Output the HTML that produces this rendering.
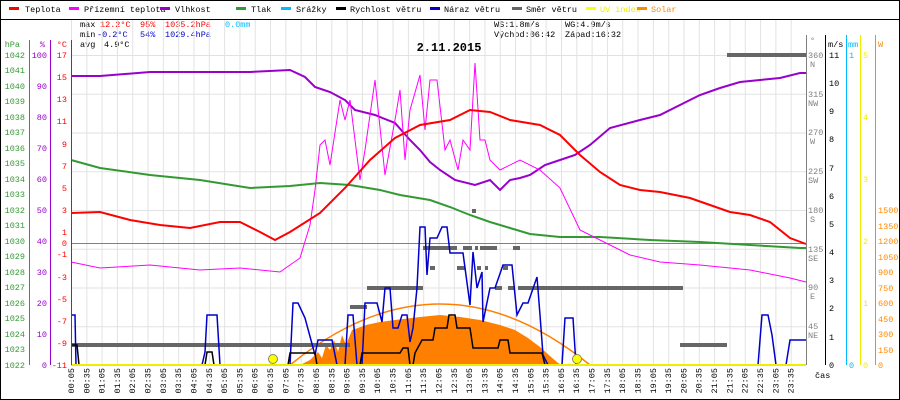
<!DOCTYPE html>
<html><head><meta charset="utf-8"><style>
body{margin:0;background:#fff}
svg{display:block;font-family:"Liberation Mono",monospace;font-size:8.5px}
</style></head><body>
<svg width="900" height="400" viewBox="0 0 900 400" xmlns="http://www.w3.org/2000/svg">
<defs>
<pattern id="vg" x="71" y="0" width="15.3125" height="400" patternUnits="userSpaceOnUse"><line x1="0.5" y1="0" x2="0.5" y2="400" stroke="#e2e2e2" stroke-width="1"/></pattern>
<pattern id="hg" x="0" y="55" width="900" height="38.75" patternUnits="userSpaceOnUse"><line x1="0" y1="0.5" x2="900" y2="0.5" stroke="#e2e2e2" stroke-width="1"/></pattern>
</defs>
<rect x="0.5" y="0.5" width="899" height="399" fill="#fff" stroke="#000"/>
<line x1="0" y1="19.5" x2="900" y2="19.5" stroke="#000"/>
<!-- legend -->
<g font-size="8.5">
<rect x="9" y="7" width="10" height="3" fill="#f00"/><text x="25" y="12">Teplota</text>
<rect x="69" y="7" width="10" height="3" fill="#f0f"/><text x="84" y="12">Přízemní teplota</text>
<rect x="160" y="7" width="10" height="3" fill="#90c"/><text x="175" y="12">Vlhkost</text>
<rect x="236" y="7" width="10" height="3" fill="#393"/><text x="251" y="12">Tlak</text>
<rect x="281" y="7" width="10" height="3" fill="#0bf"/><text x="296" y="12">Srážky</text>
<rect x="336" y="7" width="10" height="3" fill="#000"/><text x="350" y="12">Rychlost větru</text>
<rect x="430" y="7" width="10" height="3" fill="#00c"/><text x="444" y="12">Náraz větru</text>
<rect x="512" y="7" width="10" height="3" fill="#666"/><text x="526" y="12">Směr větru</text>
<rect x="586" y="7" width="10" height="3" fill="#ff0"/><text x="600" y="12" fill="#ee0">UV index</text>
<rect x="637" y="7" width="10" height="3" fill="#f80"/><text x="651" y="12" fill="#f80">Solar</text>
</g>
<!-- stats -->
<text x="80" y="27">max</text><text x="100" y="27" fill="#f00">12.2°C</text><text x="140" y="27" fill="#f00">95%</text><text x="165" y="27" fill="#f00">1035.2hPa</text><text x="225" y="27" fill="#0bf">0.0mm</text>
<text x="80" y="37">min</text><text x="97" y="37" fill="#00c">-0.2°C</text><text x="140" y="37" fill="#00c">54%</text><text x="165" y="37" fill="#00c">1029.4hPa</text>
<text x="80" y="47">avg</text><text x="104" y="47">4.9°C</text>
<text x="494" y="27">WS:1.8m/s</text><text x="565" y="27">WG:4.9m/s</text>
<text x="494" y="37">Východ:06:42</text><text x="565" y="37">Západ:16:32</text>
<!-- grid -->
<rect x="71" y="20" width="735" height="345" fill="url(#vg)"/>
<rect x="71" y="55" width="735" height="310" fill="url(#hg)"/>
<text x="449" y="51" text-anchor="middle" font-weight="bold" font-size="12">2.11.2015</text>
<line x1="71" y1="243.5" x2="806" y2="243.5" stroke="#808080"/>
<!-- solar -->
<polygon fill="#ff8000" points="300,365 310,360 318,352 322,358 326,345 330,350 334,340 338,352 342,335 346,345 352,330 358,328 366,325 380,322 395,320 420,317 440,315 460,317 480,320 500,325 515,330 528,338 540,347 550,356 558,363 562,365"/>
<path d="M290,365 Q440,243 590,365" fill="none" stroke="#ff8000" stroke-width="1.5"/>
<!-- wind direction -->
<g stroke="#666" stroke-width="4">
<line x1="71" y1="345" x2="350" y2="345"/><line x1="350" y1="307" x2="367" y2="307"/><line x1="367" y1="288" x2="423" y2="288"/>
<line x1="423" y1="248" x2="457" y2="248"/><line x1="463" y1="248" x2="472" y2="248"/><line x1="475" y1="248" x2="478" y2="248"/><line x1="480" y1="248" x2="497" y2="248"/><line x1="513" y1="248" x2="520" y2="248"/>
<line x1="430" y1="268" x2="435" y2="268"/><line x1="457" y1="268" x2="465" y2="268"/><line x1="477" y1="268" x2="481" y2="268"/><line x1="485" y1="268" x2="488" y2="268"/><line x1="503" y1="268" x2="508" y2="268"/>
<line x1="495" y1="288" x2="502" y2="288"/><line x1="508" y1="288" x2="515" y2="288"/><line x1="518" y1="288" x2="683" y2="288"/>
<line x1="472" y1="211" x2="476" y2="211"/><line x1="680" y1="345" x2="727" y2="345"/><line x1="727" y1="55" x2="806" y2="55"/>
</g>
<!-- pressure -->
<polyline fill="none" stroke="#393" stroke-width="2" points="71,160 100,168 150,175 200,180 250,188 290,186 320,183 350,185 380,190 400,195 430,200 450,207 470,215 490,222 510,228 530,234 560,237 600,237 650,240 700,242 750,245 800,248 806,248"/>
<!-- humidity -->
<polyline fill="none" stroke="#90c" stroke-width="2" points="71,76 100,76 150,72 200,72 250,72 290,70 305,77 315,87 330,92 345,100 355,110 375,115 395,123 410,140 420,150 430,162 440,170 455,180 475,185 490,180 500,190 510,180 520,178 530,175 545,165 560,160 575,155 590,145 610,128 640,120 660,115 680,105 700,95 720,88 740,82 760,80 780,78 800,73 806,73"/>
<!-- apparent temp -->
<polyline fill="none" stroke="#f0f" stroke-width="1" points="71,262 100,268 150,265 200,270 240,268 280,272 300,258 310,225 315,190 320,145 325,140 330,165 340,100 345,120 350,100 355,140 360,180 365,150 375,80 385,175 395,120 400,90 405,160 410,110 420,75 425,130 430,80 437,80 445,150 450,140 458,170 463,140 470,150 475,63 480,140 485,140 490,160 500,170 520,160 540,170 560,188 580,230 600,240 630,255 660,262 700,265 750,270 790,278 806,282"/>
<!-- temperature -->
<polyline fill="none" stroke="#f00" stroke-width="2" points="71,213 100,212 130,220 160,225 190,228 220,222 240,222 260,232 275,240 290,232 320,213 345,188 370,160 395,138 420,125 450,120 470,110 490,112 510,120 540,125 560,135 580,155 600,172 620,185 640,190 660,192 690,198 710,205 730,212 750,215 770,222 790,238 806,244"/>
<!-- gust -->
<polyline fill="none" stroke="#00c" stroke-width="1.5" points="71,315 75,315 76,365 202,365 205,352 207,315 217,315 220,365 290,365 293,303 298,303 305,318 315,355 318,340 332,340 337,365 345,365 348,315 353,315 357,365 362,365 365,303 377,303 382,322 385,288 390,288 393,328 398,328 402,315 407,315 410,342 413,328 417,288 420,227 425,227 427,275 430,238 437,238 442,227 447,227 450,253 463,253 470,305 473,252 477,288 482,272 483,322 490,288 495,288 503,265 512,265 517,315 523,303 528,303 537,277 540,315 543,355 548,365 562,365 565,318 573,318 576,365 758,365 762,315 768,315 772,335 776,365 786,365 790,340 806,340"/>
<!-- wind speed -->
<polyline fill="none" stroke="#000" stroke-width="1.5" points="71,345 77,345 79,365 205,365 207,352 212,352 214,365 288,365 290,353 315,353 317,365 360,365 362,353 400,353 403,348 408,348 410,365 413,365 415,353 422,340 433,340 435,328 447,328 449,315 455,315 457,328 470,328 473,348 498,348 500,340 508,340 510,353 542,353 545,365 806,365"/>
<line x1="71" y1="365" x2="806" y2="365" stroke="#ee0" stroke-width="2"/>
<circle cx="273" cy="359" r="4.5" fill="#ff0" stroke="#886" stroke-width="1"/>
<circle cx="577" cy="359" r="4.5" fill="#ff0" stroke="#886" stroke-width="1"/>
<!-- left axes -->
<g fill="#393" text-anchor="end">
<text x="20" y="47">hPa</text>
<text x="25" y="58">1042</text><text x="25" y="73">1041</text><text x="25" y="89">1040</text><text x="25" y="104">1039</text><text x="25" y="120">1038</text><text x="25" y="135">1037</text><text x="25" y="151">1036</text><text x="25" y="166">1035</text><text x="25" y="182">1034</text><text x="25" y="197">1033</text><text x="25" y="213">1032</text><text x="25" y="228">1031</text><text x="25" y="244">1030</text><text x="25" y="259">1029</text><text x="25" y="275">1028</text><text x="25" y="290">1027</text><text x="25" y="306">1026</text><text x="25" y="321">1025</text><text x="25" y="337">1024</text><text x="25" y="352">1023</text><text x="25" y="368">1022</text>
</g>
<line x1="29.5" y1="40" x2="29.5" y2="365" stroke="#393"/>
<g fill="#90c" text-anchor="end">
<text x="45" y="47">%</text>
<text x="47" y="58">100</text><text x="47" y="89">90</text><text x="47" y="120">80</text><text x="47" y="151">70</text><text x="47" y="182">60</text><text x="47" y="213">50</text><text x="47" y="244">40</text><text x="47" y="275">30</text><text x="47" y="306">20</text><text x="47" y="337">10</text><text x="47" y="368">0</text>
</g>
<line x1="50.5" y1="40" x2="50.5" y2="365" stroke="#90c"/>
<g fill="#f00" text-anchor="end">
<text x="67" y="47">°C</text>
<text x="67" y="58">17</text><text x="67" y="80">15</text><text x="67" y="102">13</text><text x="67" y="124">11</text><text x="67" y="147">9</text><text x="67" y="169">7</text><text x="67" y="191">5</text><text x="67" y="213">3</text><text x="67" y="235">1</text><text x="67" y="246">0</text><text x="67" y="257">-1</text><text x="67" y="280">-3</text><text x="67" y="302">-5</text><text x="67" y="324">-7</text><text x="67" y="346">-9</text><text x="67" y="368">-11</text>
</g>
<line x1="71.5" y1="40" x2="71.5" y2="365" stroke="#f00"/>
<!-- right axes -->
<line x1="806.5" y1="35" x2="806.5" y2="365" stroke="#808080"/>
<g fill="#808080">
<text x="810" y="43">°</text>
<text x="808" y="58">360</text><text x="810" y="67">N</text>
<text x="808" y="97">315</text><text x="808" y="106">NW</text>
<text x="808" y="135">270</text><text x="810" y="144">W</text>
<text x="808" y="174">225</text><text x="808" y="183">SW</text>
<text x="808" y="213">180</text><text x="810" y="222">S</text>
<text x="808" y="252">135</text><text x="808" y="261">SE</text>
<text x="808" y="290">90</text><text x="810" y="299">E</text>
<text x="808" y="329">45</text><text x="808" y="338">NE</text>
</g>
<line x1="825.5" y1="35" x2="825.5" y2="365" stroke="#000"/>
<g fill="#000">
<text x="828" y="47">m/s</text>
<text x="829" y="58">11</text><text x="829" y="86">10</text><text x="829" y="114">9</text><text x="829" y="142">8</text><text x="829" y="171">7</text><text x="829" y="199">6</text><text x="829" y="227">5</text><text x="829" y="255">4</text><text x="829" y="283">3</text><text x="829" y="311">2</text><text x="829" y="340">1</text><text x="829" y="368">0</text>
<text x="815" y="378">čas</text>
</g>
<line x1="846.5" y1="35" x2="846.5" y2="365" stroke="#0bf"/>
<g fill="#0bf"><text x="848" y="47">mm</text><text x="849" y="58">1</text><text x="849" y="368">0</text></g>
<line x1="860.5" y1="35" x2="860.5" y2="365" stroke="#ee0"/>
<g fill="#ee0"><text x="863" y="58">5</text><text x="863" y="120">4</text><text x="863" y="182">3</text><text x="863" y="244">2</text><text x="863" y="306">1</text><text x="863" y="368">0</text></g>
<line x1="875.5" y1="35" x2="875.5" y2="365" stroke="#f80"/>
<g fill="#f80"><text x="878" y="47">W</text>
<text x="878" y="213">1500</text><text x="878" y="229">1350</text><text x="878" y="244">1200</text><text x="878" y="260">1050</text><text x="878" y="275">900</text><text x="878" y="291">750</text><text x="878" y="306">600</text><text x="878" y="322">450</text><text x="878" y="337">300</text><text x="878" y="353">150</text><text x="878" y="368">0</text></g>
<!-- time labels -->
<g text-anchor="end" font-size="8.5">
<text transform="translate(74,368) rotate(-90)">00:05</text>
<text transform="translate(89.3,368) rotate(-90)">00:35</text>
<text transform="translate(104.6,368) rotate(-90)">01:05</text>
<text transform="translate(119.9,368) rotate(-90)">01:35</text>
<text transform="translate(135.2,368) rotate(-90)">02:05</text>
<text transform="translate(150.6,368) rotate(-90)">02:35</text>
<text transform="translate(165.9,368) rotate(-90)">03:05</text>
<text transform="translate(181.2,368) rotate(-90)">03:35</text>
<text transform="translate(196.5,368) rotate(-90)">04:05</text>
<text transform="translate(211.8,368) rotate(-90)">04:35</text>
<text transform="translate(227.1,368) rotate(-90)">05:05</text>
<text transform="translate(242.4,368) rotate(-90)">05:35</text>
<text transform="translate(257.7,368) rotate(-90)">06:05</text>
<text transform="translate(273,368) rotate(-90)">06:35</text>
<text transform="translate(288.3,368) rotate(-90)">07:05</text>
<text transform="translate(303.7,368) rotate(-90)">07:35</text>
<text transform="translate(319,368) rotate(-90)">08:05</text>
<text transform="translate(334.3,368) rotate(-90)">08:35</text>
<text transform="translate(349.6,368) rotate(-90)">09:05</text>
<text transform="translate(364.9,368) rotate(-90)">09:35</text>
<text transform="translate(380.2,368) rotate(-90)">10:05</text>
<text transform="translate(395.5,368) rotate(-90)">10:35</text>
<text transform="translate(410.8,368) rotate(-90)">11:05</text>
<text transform="translate(426.1,368) rotate(-90)">11:35</text>
<text transform="translate(441.4,368) rotate(-90)">12:05</text>
<text transform="translate(456.8,368) rotate(-90)">12:35</text>
<text transform="translate(472.1,368) rotate(-90)">13:05</text>
<text transform="translate(487.4,368) rotate(-90)">13:35</text>
<text transform="translate(502.7,368) rotate(-90)">14:05</text>
<text transform="translate(518,368) rotate(-90)">14:35</text>
<text transform="translate(533.3,368) rotate(-90)">15:05</text>
<text transform="translate(548.6,368) rotate(-90)">15:35</text>
<text transform="translate(563.9,368) rotate(-90)">16:05</text>
<text transform="translate(579.2,368) rotate(-90)">16:35</text>
<text transform="translate(594.5,368) rotate(-90)">17:05</text>
<text transform="translate(609.9,368) rotate(-90)">17:35</text>
<text transform="translate(625.2,368) rotate(-90)">18:05</text>
<text transform="translate(640.5,368) rotate(-90)">18:35</text>
<text transform="translate(655.8,368) rotate(-90)">19:05</text>
<text transform="translate(671.1,368) rotate(-90)">19:35</text>
<text transform="translate(686.4,368) rotate(-90)">20:05</text>
<text transform="translate(701.7,368) rotate(-90)">20:35</text>
<text transform="translate(717,368) rotate(-90)">21:05</text>
<text transform="translate(732.3,368) rotate(-90)">21:35</text>
<text transform="translate(747.6,368) rotate(-90)">22:05</text>
<text transform="translate(763,368) rotate(-90)">22:35</text>
<text transform="translate(778.3,368) rotate(-90)">23:05</text>
<text transform="translate(793.6,368) rotate(-90)">23:35</text>
</g>
</svg>
</body></html>
